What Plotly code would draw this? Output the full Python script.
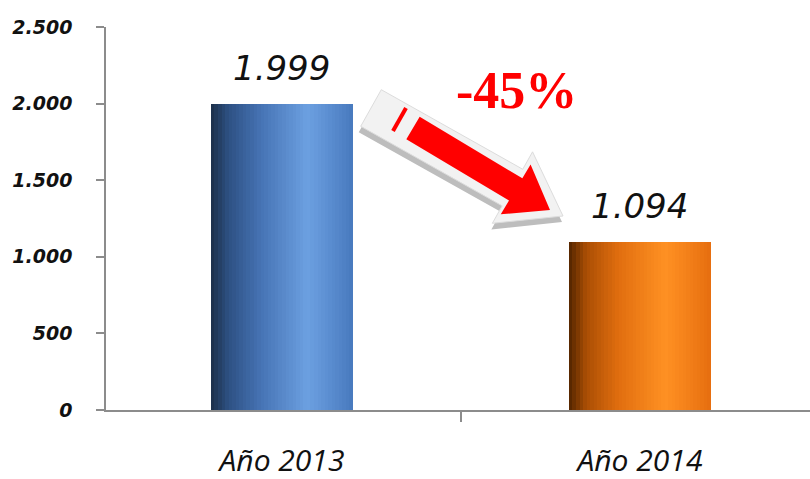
import plotly.graph_objects as go

categories = ["Año 2013", "Año 2014"]
values = [1999, 1094]
y_ticks = [0, 500, 1000, 1500, 2000, 2500]
change_label = "-45%"

# gradient stops (position, rgb) per bar
gradients = [
    [(0.0, (28, 46, 72)), (0.12, (45, 80, 130)), (0.35, (70, 115, 180)), (0.68, (108, 160, 225)), (1.0, (72, 122, 190))],
    [(0.0, (80, 36, 0)), (0.12, (170, 78, 4)), (0.35, (225, 110, 15)), (0.68, (255, 145, 35)), (1.0, (230, 110, 15))],
]

W, H = 810, 479
L, R, T, B = 106, 0, 27, 69
PW, PH = W - L - R, H - T - B
BAR_W = 0.397
N_STRIPS = 40


def interp(stops, t):
    for (p0, c0), (p1, c1) in zip(stops, stops[1:]):
        if p0 <= t <= p1:
            f = (t - p0) / (p1 - p0) if p1 > p0 else 0
            return "rgb(%d,%d,%d)" % tuple(round(a + (b - a) * f) for a, b in zip(c0, c1))
    return "rgb(%d,%d,%d)" % stops[-1][1]


def fmt(v):
    return f"{v:,}".replace(",", ".")


fig = go.Figure()
sw = BAR_W / N_STRIPS
for cat, val, stops in zip(categories, values, gradients):
    for i in range(N_STRIPS):
        t = (i + 0.5) / N_STRIPS
        fig.add_trace(go.Bar(
            x=[cat], y=[val], width=sw * 1.08, offset=-BAR_W / 2 + i * sw,
            marker=dict(color=interp(stops, t), line=dict(width=0)),
            showlegend=False, hoverinfo="skip",
        ))

for cat, val in zip(categories, values):
    fig.add_annotation(x=cat, y=val, text=fmt(val), showarrow=False,
                       yanchor="bottom", yshift=14,
                       font=dict(family="DejaVu Sans", size=34, color="#111111", style="italic"))


def px(x, y):
    return ((x - L) / PW, (T + PH - y) / PH)


def arrow_path(sx, sy, tx, ty, half_w, head_half, head_len):
    import math
    dx, dy = tx - sx, ty - sy
    d = math.hypot(dx, dy)
    ux, uy = dx / d, dy / d
    nx, ny = -uy, ux
    bx, by = tx - ux * head_len, ty - uy * head_len
    pts = [
        (sx + nx * half_w, sy + ny * half_w),
        (bx + nx * half_w, by + ny * half_w),
        (bx + nx * head_half, by + ny * head_half),
        (tx, ty),
        (bx - nx * head_half, by - ny * head_half),
        (bx - nx * half_w, by - ny * half_w),
        (sx - nx * half_w, sy - ny * half_w),
    ]
    pp = [px(*p) for p in pts]
    return "M " + " L ".join(f"{a:.5f},{b:.5f}" for a, b in pp) + " Z"


# shadow, white outline, red arrow
fig.add_shape(type="path", xref="paper", yref="paper",
              path=arrow_path(369, 114, 562, 222, 21, 41, 58),
              fillcolor="#bdbdbd", line=dict(width=0), layer="above")
fig.add_shape(type="path", xref="paper", yref="paper",
              path=arrow_path(371, 108, 563, 216, 21, 41, 58),
              fillcolor="#f2f2f2", line=dict(color="#dcdcdc", width=1), layer="above")
fig.add_shape(type="path", xref="paper", yref="paper",
              path=arrow_path(413, 128, 550, 210, 13, 29, 40),
              fillcolor="#ff0000", line=dict(width=0), layer="above")
x0, y0 = px(406, 108)
x1, y1 = px(393, 131)
fig.add_shape(type="line", xref="paper", yref="paper", x0=x0, y0=y0, x1=x1, y1=y1,
              line=dict(color="#ff0000", width=4), layer="above")

tx, ty = px(516, 91)
fig.add_annotation(xref="paper", yref="paper", x=tx, y=ty, text="<b>" + change_label + "</b>",
                   showarrow=False, xanchor="center", yanchor="middle",
                   font=dict(family="Liberation Serif", size=52, color="#ff0000"))

fig.update_layout(
    width=W, height=H,
    margin=dict(l=L, r=R, t=T, b=B, autoexpand=False),
    paper_bgcolor="white", plot_bgcolor="white",
    barmode="overlay", bargap=0,
    separators=",.",
    showlegend=False,
)
fig.update_xaxes(
    range=[-0.4916, 1.475], showline=True, linecolor="#8c8c8c", linewidth=1.5,
    ticks="outside", tickson="boundaries", ticklen=10, tickcolor="#8c8c8c", tickwidth=1.5,
    showgrid=False, zeroline=False, ticklabelstandoff=23, automargin=False,
    tickfont=dict(family="Open Sans", size=30, color="#111111", style="italic"),
)
fig.update_yaxes(
    range=[0, 2500], tickvals=y_ticks, tickformat=",d",
    showline=True, linecolor="#8c8c8c", linewidth=1.5,
    ticks="outside", ticklen=8, tickcolor="#8c8c8c", tickwidth=1.5,
    showgrid=False, zeroline=False, ticklabelstandoff=20, automargin=False,
    tickfont=dict(family="DejaVu Sans", size=19, color="#111111", style="italic", weight="bold"),
)

fig.write_html("out.html", config={"displayModeBar": False},
               post_script="document.body.style.margin='0';document.body.style.padding='0';document.body.style.overflow='hidden';")
